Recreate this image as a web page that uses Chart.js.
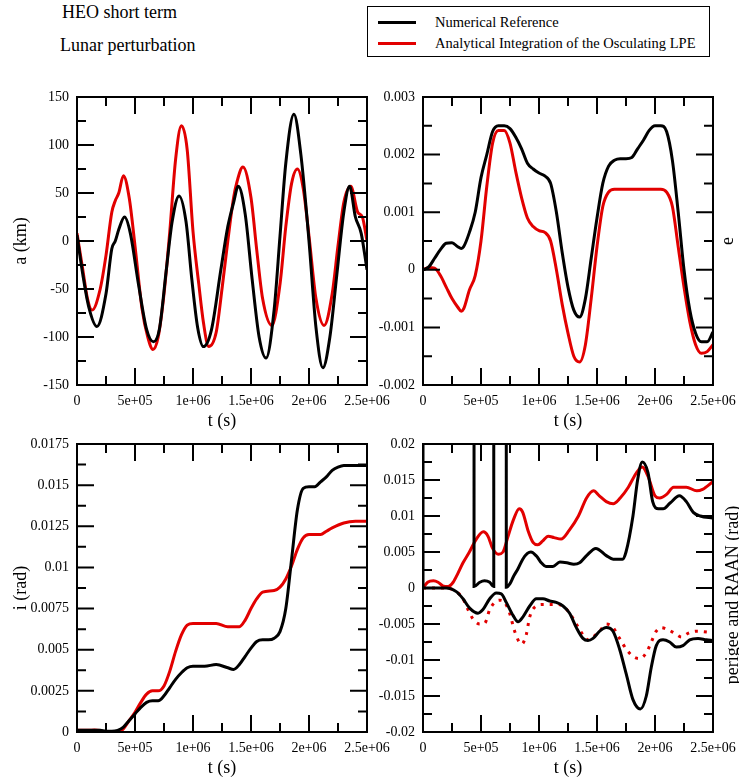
<!DOCTYPE html>
<html>
<head>
<meta charset="utf-8">
<script src="https://cdn.jsdelivr.net/npm/chart.js@4.4.0/dist/chart.umd.min.js"></script>
<style>
  body { margin: 0; background: #fff; width: 739px; height: 779px; position: relative; overflow: hidden; font-family: 'Liberation Serif', serif; }
  canvas { position: absolute; }
  .title { position: absolute; font-size: 18px; line-height: 20px; white-space: nowrap; }
  .legend { position: absolute; left: 367px; top: 6px; width: 341px; height: 49px; border: 1.5px solid #000; font-size: 14.5px; }
  .legend .row { position: absolute; left: 0; white-space: nowrap; }
  .legend .swatch { position: absolute; left: 10px; width: 38px; height: 3px; }
  .legend .txt { position: absolute; left: 67px; line-height: 16px; }
</style>
</head>
<body>
<div class="title" style="left:62px; top:2px;">HEO short term</div>
<div class="title" style="left:60px; top:35px;">Lunar perturbation</div>
<div class="legend">
  <div class="row" style="top:14px;"><div class="swatch" style="background:#000; top:0;"></div><div class="txt" style="top:-7px;">Numerical Reference</div></div>
  <div class="row" style="top:35px;"><div class="swatch" style="background:rgb(226,0,0); top:0;"></div><div class="txt" style="top:-7px;">Analytical Integration of the Osculating LPE</div></div>
</div>

<canvas id="cA" width="400" height="360" style="left:0px; top:80px;"></canvas>
<canvas id="cE" width="400" height="360" style="left:346px; top:80px;"></canvas>
<canvas id="cI" width="400" height="360" style="left:0px; top:427px;"></canvas>
<canvas id="cW" width="400" height="360" style="left:346px; top:427px;"></canvas>

<script>
// time axis, shared by all four panels
const tTickVals = [0, 5e5, 1e6, 1.5e6, 2e6, 2.5e6];
const tTickLabels = ['0', '5e+05', '1e+06', '1.5e+06', '2e+06', '2.5e+06'];

// semi-major axis (km)
const aTickVals = [-150, -100, -50, 0, 50, 100, 150];
const aTickLabels = ['-150', '-100', '-50', '0', '50', '100', '150'];
const aRefT = [0, 5e4, 1e5, 1.72e5, 2.5e5, 3e5, 3.3e5, 3.6e5, 4.1e5, 4.6e5, 5.3e5, 6e5, 6.6e5, 7.1e5, 7.7e5, 8.2e5, 8.8e5, 9.4e5, 9.9e5, 1.04e6, 1.09e6, 1.16e6, 1.24e6, 1.3e6, 1.35e6, 1.39e6, 1.45e6, 1.51e6, 1.57e6, 1.63e6, 1.7e6, 1.75e6, 1.8e6, 1.87e6, 1.93e6, 2e6, 2.06e6, 2.12e6, 2.18e6, 2.24e6, 2.3e6, 2.35e6, 2.4e6, 2.45e6, 2.5e6];
const aRef = [6, -35, -68, -89, -55, -8, 0, 12, 25, 8, -45, -92, -105, -92, -30, 20, 47, 20, -40, -90, -110, -92, -30, 15, 40, 57, 28, -40, -100, -122, -71, 5, 81, 132, 90, 0, -90, -132, -100, -35, 30, 57, 25, 8, -30];
const aLpeT = [0, 5e4, 9e4, 1.3e5, 2e5, 2.5e5, 3e5, 3.3e5, 3.6e5, 4e5, 4.5e5, 5e5, 5.6e5, 6.1e5, 6.55e5, 7e5, 7.5e5, 8e5, 8.5e5, 9e5, 9.5e5, 1e6, 1.05e6, 1.09e6, 1.135e6, 1.2e6, 1.25e6, 1.3e6, 1.35e6, 1.38e6, 1.43e6, 1.5e6, 1.55e6, 1.6e6, 1.68e6, 1.75e6, 1.8e6, 1.85e6, 1.9e6, 1.95e6, 2e6, 2.06e6, 2.13e6, 2.2e6, 2.25e6, 2.3e6, 2.36e6, 2.42e6, 2.46e6, 2.5e6];
const aLpe = [8, -30, -60, -72, -50, -15, 30, 42, 50, 68, 45, -5, -70, -100, -113, -100, -55, 10, 85, 120, 95, 10, -45, -85, -110, -95, -50, 0, 45, 62, 77, 45, -10, -60, -88, -45, 15, 60, 75, 55, 5, -60, -88, -55, -5, 40, 57, 30, 25, 0];

// eccentricity
const eTickVals = [-0.002, -0.001, 0, 0.001, 0.002, 0.003];
const eTickLabels = ['-0.002', '-0.001', '0', '0.001', '0.002', '0.003'];
const eT = [0, 5e4, 1e5, 1.5e5, 2e5, 2.5e5, 3e5, 3.3e5, 3.5e5, 4e5, 4.5e5, 5e5, 5.5e5, 6e5, 6.5e5, 7e5, 7.5e5, 8e5, 8.5e5, 9e5, 9.5e5, 1e6, 1.05e6, 1.1e6, 1.15e6, 1.2e6, 1.25e6, 1.3e6, 1.35e6, 1.4e6, 1.45e6, 1.5e6, 1.55e6, 1.6e6, 1.65e6, 1.7e6, 1.75e6, 1.8e6, 1.85e6, 1.9e6, 1.95e6, 2e6, 2.05e6, 2.1e6, 2.15e6, 2.2e6, 2.25e6, 2.3e6, 2.35e6, 2.4e6, 2.45e6, 2.5e6];
const eRef = [0, 0.00005, 0.0002, 0.00035, 0.00046, 0.00047, 0.0004, 0.00037, 0.0004, 0.00065, 0.001, 0.0016, 0.002, 0.0024, 0.0025, 0.0025, 0.00245, 0.0023, 0.0021, 0.00185, 0.00175, 0.00168, 0.00163, 0.0015, 0.001, 0.0003, -0.0003, -0.0007, -0.00082, -0.0005, 0.0002, 0.0009, 0.0015, 0.0018, 0.0019, 0.00193, 0.00193, 0.00195, 0.0021, 0.00225, 0.00242, 0.0025, 0.0025, 0.0024, 0.0019, 0.001, 0, -0.0007, -0.0011, -0.00125, -0.00125, -0.00108];
const eLpe = [0, 0.00004, 0.00003, -0.0001, -0.0003, -0.0005, -0.00065, -0.00072, -0.00068, -0.00035, -0.0001, 0.0005, 0.00145, 0.0022, 0.00242, 0.00242, 0.0022, 0.0017, 0.00125, 0.0009, 0.00075, 0.00068, 0.00065, 0.0005, 0, -0.0006, -0.0011, -0.0015, -0.0016, -0.0013, -0.0005, 0.0004, 0.0011, 0.00135, 0.0014, 0.0014, 0.0014, 0.0014, 0.0014, 0.0014, 0.0014, 0.0014, 0.0014, 0.00135, 0.0011, 0.0004, -0.0003, -0.0009, -0.0013, -0.00145, -0.00142, -0.0013];

// inclination (rad)
const iTickVals = [0, 0.0025, 0.005, 0.0075, 0.01, 0.0125, 0.015, 0.0175];
const iTickLabels = ['0', '0.0025', '0.005', '0.0075', '0.01', '0.0125', '0.015', '0.0175'];
const iRefT = [0, 1e5, 2e5, 2.5e5, 3e5, 3.5e5, 4e5, 4.5e5, 5e5, 5.5e5, 6e5, 6.5e5, 7e5, 7.5e5, 8e5, 8.5e5, 9e5, 9.5e5, 1e6, 1.1e6, 1.2e6, 1.3e6, 1.35e6, 1.4e6, 1.45e6, 1.5e6, 1.55e6, 1.6e6, 1.65e6, 1.7e6, 1.75e6, 1.8e6, 1.85e6, 1.9e6, 1.95e6, 2e6, 2.05e6, 2.1e6, 2.15e6, 2.2e6, 2.25e6, 2.3e6, 2.5e6];
const iRef = [0.0001, 0.0001, 0.0001, 0.00005, 0.00005, 0.0001, 0.0003, 0.0007, 0.0011, 0.0015, 0.0018, 0.0019, 0.0019, 0.0022, 0.0027, 0.0032, 0.0036, 0.0039, 0.004, 0.004, 0.0041, 0.0039, 0.0038, 0.0041, 0.0046, 0.0051, 0.0055, 0.0056, 0.0056, 0.0057, 0.0061, 0.0075, 0.0105, 0.0135, 0.0148, 0.0149, 0.0149, 0.0152, 0.0155, 0.0159, 0.0161, 0.0162, 0.0162];
const iLpeT = [0, 1e5, 1.5e5, 2e5, 2.5e5, 3e5, 3.5e5, 4e5, 4.5e5, 5e5, 5.5e5, 6e5, 6.5e5, 7e5, 7.5e5, 8e5, 8.5e5, 9e5, 9.5e5, 1e6, 1.1e6, 1.2e6, 1.3e6, 1.4e6, 1.45e6, 1.5e6, 1.55e6, 1.6e6, 1.7e6, 1.75e6, 1.8e6, 1.85e6, 1.9e6, 1.95e6, 2e6, 2.1e6, 2.15e6, 2.2e6, 2.3e6, 2.4e6, 2.5e6];
const iLpe = [0.0001, 0.0001, 0.00012, 0.0001, -0.0001, -0.0001, -0.0001, 0.0002, 0.0007, 0.0012, 0.0018, 0.0023, 0.0025, 0.0025, 0.0028, 0.0037, 0.0049, 0.0059, 0.0065, 0.0066, 0.0066, 0.0066, 0.0064, 0.0064, 0.0068, 0.0075, 0.0081, 0.0085, 0.0086, 0.0088, 0.0093, 0.0101, 0.0111, 0.0118, 0.012, 0.012, 0.0122, 0.0124, 0.0127, 0.0128, 0.0128];

// argument of perigee and RAAN (rad); 6.28 = wrapped angle, above the frame
const wTickVals = [-0.02, -0.015, -0.01, -0.005, 0, 0.005, 0.01, 0.015, 0.02];
const wTickLabels = ['-0.02', '-0.015', '-0.01', '-0.005', '0', '0.005', '0.01', '0.015', '0.02'];
const perRefT = [0, 2e3, 4.38e5, 4.4e5, 4.9e5, 5.3e5, 5.75e5, 6.1e5, 6.12e5, 7.16e5, 7.18e5, 7.5e5, 7.8e5, 8.2e5, 8.6e5, 9e5, 9.3e5, 9.8e5, 1.02e6, 1.06e6, 1.12e6, 1.18e6, 1.24e6, 1.3e6, 1.35e6, 1.41e6, 1.49e6, 1.58e6, 1.64e6, 1.72e6, 1.75e6, 1.81e6, 1.85e6, 1.89e6, 1.94e6, 1.98e6, 2.03e6, 2.07e6, 2.13e6, 2.21e6, 2.27e6, 2.33e6, 2.39e6, 2.5e6];
const perRef = [0, 6.28, 6.28, 0.0002, 0.0008, 0.001, 0.0008, 0.0002, 6.28, 6.28, 0.0001, 0.0006, 0.0016, 0.0027, 0.004, 0.0048, 0.005, 0.0044, 0.0035, 0.003, 0.003, 0.0036, 0.0035, 0.0033, 0.0035, 0.0045, 0.0055, 0.0045, 0.004, 0.004, 0.005, 0.01, 0.015, 0.0175, 0.016, 0.012, 0.011, 0.011, 0.0118, 0.0128, 0.012, 0.0105, 0.01, 0.0097];
const perLpeT = [0, 4e4, 9e4, 1.3e5, 1.7e5, 2.15e5, 2.6e5, 3e5, 3.45e5, 4e5, 4.6e5, 5.2e5, 5.6e5, 6e5, 6.5e5, 6.9e5, 7.3e5, 7.8e5, 8.3e5, 8.6e5, 9.05e5, 9.5e5, 9.9e5, 1.03e6, 1.08e6, 1.13e6, 1.19e6, 1.26e6, 1.34e6, 1.41e6, 1.47e6, 1.52e6, 1.58e6, 1.64e6, 1.7e6, 1.77e6, 1.84e6, 1.89e6, 1.94e6, 2e6, 2.04e6, 2.1e6, 2.16e6, 2.27e6, 2.36e6, 2.41e6, 2.5e6];
const perLpe = [0, 0.0008, 0.001, 0.0008, 0.0003, 0.0002, 0.0008, 0.002, 0.0035, 0.005, 0.0068, 0.0078, 0.0072, 0.0055, 0.0047, 0.005, 0.007, 0.0095, 0.011, 0.0105, 0.008, 0.0063, 0.006, 0.0065, 0.0072, 0.007, 0.0068, 0.008, 0.01, 0.0125, 0.0135, 0.0128, 0.012, 0.0117, 0.0125, 0.014, 0.016, 0.0168, 0.0155, 0.0128, 0.0125, 0.013, 0.014, 0.014, 0.0135, 0.0137, 0.0148];
const raanRefT = [0, 1e5, 2.01e5, 2.87e5, 3.45e5, 4.02e5, 4.74e5, 5.17e5, 5.75e5, 6.32e5, 6.75e5, 7.18e5, 7.76e5, 8.19e5, 8.62e5, 9.2e5, 9.77e5, 1.034e6, 1.092e6, 1.149e6, 1.207e6, 1.264e6, 1.322e6, 1.379e6, 1.422e6, 1.466e6, 1.523e6, 1.58e6, 1.638e6, 1.695e6, 1.753e6, 1.81e6, 1.874e6, 1.925e6, 1.968e6, 2.011e6, 2.069e6, 2.126e6, 2.184e6, 2.241e6, 2.299e6, 2.371e6, 2.443e6, 2.5e6];
const raanRef = [0, 0, 0, -0.0005, -0.0015, -0.0028, -0.0035, -0.003, -0.0015, -0.0007, -0.0008, -0.002, -0.0038, -0.0047, -0.004, -0.0025, -0.0015, -0.0015, -0.0018, -0.002, -0.0025, -0.0035, -0.0055, -0.007, -0.0073, -0.007, -0.006, -0.0055, -0.006, -0.0085, -0.012, -0.0155, -0.0168, -0.015, -0.011, -0.008, -0.0072, -0.0075, -0.0082, -0.008, -0.0072, -0.007, -0.0072, -0.0073];
const raanLpeT = [0, 1e5, 2.01e5, 2.87e5, 3.45e5, 3.88e5, 4.31e5, 4.89e5, 5.32e5, 5.75e5, 6.18e5, 6.61e5, 7.04e5, 7.47e5, 7.9e5, 8.5e5, 8.9e5, 9.2e5, 9.77e5, 1.034e6, 1.15e6, 1.207e6, 1.264e6, 1.322e6, 1.379e6, 1.422e6, 1.466e6, 1.523e6, 1.58e6, 1.638e6, 1.695e6, 1.753e6, 1.81e6, 1.868e6, 1.925e6, 1.968e6, 2.011e6, 2.055e6, 2.112e6, 2.17e6, 2.227e6, 2.284e6, 2.356e6, 2.5e6];
const raanLpe = [0, 0, 0, -0.0005, -0.0015, -0.003, -0.0043, -0.005, -0.0049, -0.003, -0.002, -0.0017, -0.002, -0.0035, -0.006, -0.0078, -0.0065, -0.004, -0.0025, -0.0023, -0.0023, -0.0025, -0.0035, -0.005, -0.0065, -0.0072, -0.0068, -0.006, -0.005, -0.0055, -0.007, -0.0085, -0.0095, -0.0098, -0.009, -0.0075, -0.006, -0.0055, -0.0058, -0.0063, -0.0068, -0.0063, -0.006, -0.0062];

const BLACK = '#000';
const RED = 'rgb(226,0,0)';

Chart.defaults.font.family = "'Liberation Serif', serif";
Chart.defaults.color = '#000';

function pts(ts, ys) {
    return ts.map((t, i) => ({ x: t, y: ys[i] }));
}

function line(ts, ys, color, dash) {
    return {
        data: pts(ts, ys),
        borderColor: color,
        borderWidth: 3,
        borderDash: dash || [],
        pointRadius: 0,
        cubicInterpolationMode: 'monotone',
        clip: 1
    };
}

function midpoints(vals) {
    return vals.slice(1).map((v, i) => (v + vals[i]) / 2);
}

// closed frame with inward major and minor ticks on all four sides
const frameTicks = {
    id: 'frameTicks',
    afterDatasetsDraw(chart, args, opts) {
        const { ctx, chartArea: { left, top, right, bottom }, scales: { x, y } } = chart;
        const major = 17, minor = 9;
        ctx.save();
        ctx.strokeStyle = '#000';
        ctx.lineWidth = 2;
        ctx.beginPath();
        const xt = [[tTickVals, major], [midpoints(tTickVals), minor]];
        xt.forEach(([vals, len]) => vals.forEach(v => {
            const px = x.getPixelForValue(v);
            ctx.moveTo(px, bottom); ctx.lineTo(px, bottom - len);
            ctx.moveTo(px, top); ctx.lineTo(px, top + len);
        }));
        const yt = [[opts.yTicks, major], [midpoints(opts.yTicks), minor]];
        yt.forEach(([vals, len]) => vals.forEach(v => {
            const py = y.getPixelForValue(v);
            ctx.moveTo(left, py); ctx.lineTo(left + len, py);
            ctx.moveTo(right, py); ctx.lineTo(right - len, py);
        }));
        ctx.stroke();
        ctx.strokeRect(left, top, right - left, bottom - top);
        if (opts.rightTitle) {
            ctx.fillStyle = '#000';
            ctx.font = "18px 'Liberation Serif', serif";
            ctx.textAlign = 'center';
            ctx.textBaseline = 'middle';
            ctx.translate(right + opts.rightTitleGap, (top + bottom) / 2 + (opts.rightTitleShift || 0));
            ctx.rotate(-Math.PI / 2);
            ctx.fillText(opts.rightTitle, 0, 0);
        }
        ctx.restore();
    }
};

function makePanel(id, p) {
    new Chart(document.getElementById(id), {
        type: 'line',
        data: { datasets: p.datasets },
        options: {
            responsive: false,
            animation: false,
            layout: { padding: { top: 17, left: 0, right: 33, bottom: 0 } },
            plugins: {
                legend: { display: false },
                tooltip: { enabled: false },
                frameTicks: { yTicks: p.yTicks, rightTitle: p.rightTitle, rightTitleGap: p.rightTitleGap, rightTitleShift: p.rightTitleShift }
            },
            scales: {
                x: {
                    type: 'linear',
                    min: 0,
                    max: 2.5e6,
                    afterBuildTicks: s => { s.ticks = tTickVals.map(v => ({ value: v })); },
                    afterFit: s => { s.height = 55; },
                    ticks: {
                        autoSkip: false,
                        maxRotation: 0,
                        padding: 8,
                        font: { size: 14 },
                        callback: (v, i) => tTickLabels[i]
                    },
                    grid: { display: false, drawTicks: false },
                    border: { display: false },
                    title: { display: true, text: 't (s)', font: { size: 18 }, padding: { top: 0, bottom: 8 } }
                },
                y: {
                    type: 'linear',
                    min: p.yTicks[0],
                    max: p.yTicks[p.yTicks.length - 1],
                    afterBuildTicks: s => { s.ticks = p.yTicks.map(v => ({ value: v })); },
                    afterFit: s => { s.width = 77; },
                    ticks: {
                        autoSkip: false,
                        padding: 8,
                        font: { size: 14 },
                        callback: (v, i) => p.yLabels[i]
                    },
                    grid: { display: false, drawTicks: false },
                    border: { display: false },
                    title: { display: !!p.yTitle, text: p.yTitle || '', font: { size: 18 }, padding: { top: 10, bottom: 0 } }
                }
            }
        },
        plugins: [frameTicks]
    });
}

makePanel('cA', {
    yTicks: aTickVals, yLabels: aTickLabels, yTitle: 'a (km)',
    datasets: [line(aRefT, aRef, BLACK), line(aLpeT, aLpe, RED)]
});

makePanel('cE', {
    yTicks: eTickVals, yLabels: eTickLabels, rightTitle: 'e', rightTitleGap: 15,
    datasets: [line(eT, eRef, BLACK), line(eT, eLpe, RED)]
});

makePanel('cI', {
    yTicks: iTickVals, yLabels: iTickLabels, yTitle: 'i (rad)',
    datasets: [line(iRefT, iRef, BLACK), line(iLpeT, iLpe, RED)]
});

makePanel('cW', {
    yTicks: wTickVals, yLabels: wTickLabels, rightTitle: 'perigee and RAAN (rad)', rightTitleGap: 20, rightTitleShift: 7,
    datasets: [
        line(perRefT, perRef, BLACK),
        line(raanRefT, raanRef, BLACK),
        line(perLpeT, perLpe, RED),
        line(raanLpeT, raanLpe, RED, [3, 6])
    ]
});
</script>
</body>
</html>
